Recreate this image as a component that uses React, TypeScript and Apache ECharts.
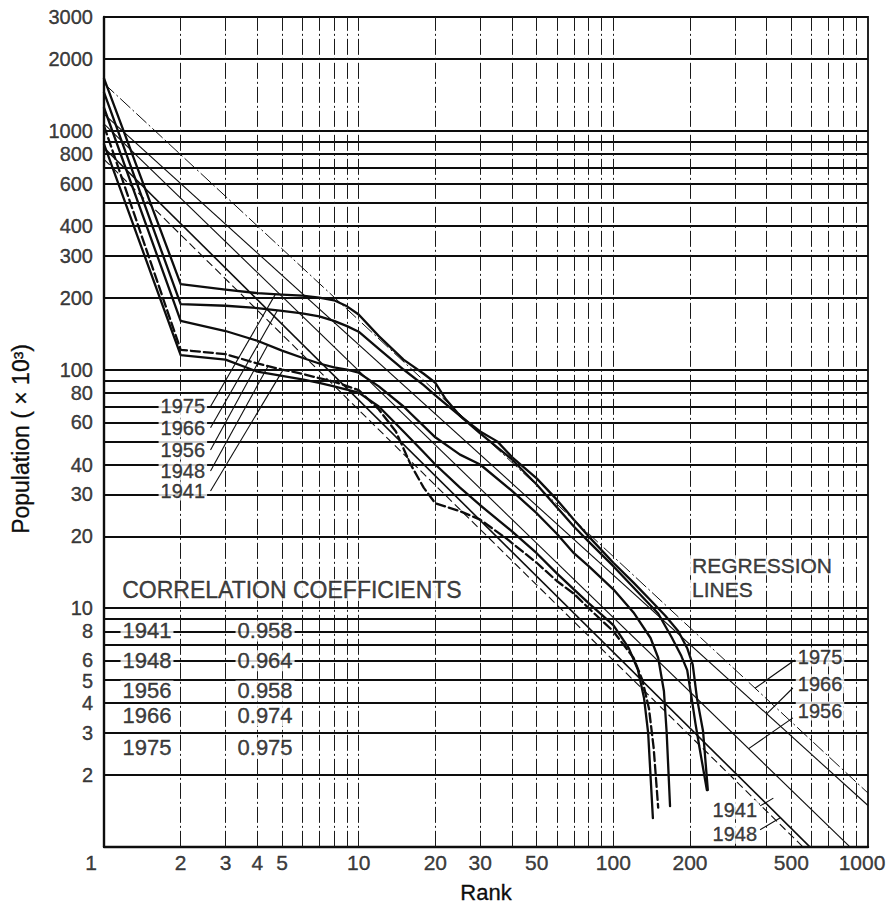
import { useEffect, useRef } from "react";
import * as echarts from "echarts";

// Census years and correlation coefficients of each rank-size regression
const years = ["1941", "1948", "1956", "1966", "1975"];
const correlation = ["0.958", "0.964", "0.958", "0.974", "0.975"];

// Rank-size curves: rank of the settlement and its population (thousands)
const rank1941 = [1, 2, 3, 4, 5, 6, 7, 8, 10, 12, 15, 18, 20, 25, 30, 40, 50, 60, 70, 80, 100, 115, 125, 132, 137, 143];
const pop1941 = [880, 115, 110, 98, 94, 91, 88, 85, 80, 70, 55, 45, 40, 32, 27, 21, 17, 14, 12, 10.5, 8.5, 6.8, 5.5, 4.2, 3, 1.32];

const rank1948 = [1, 2, 3, 4, 5, 6, 7, 8, 10, 12, 14, 16, 18, 20, 25, 30, 38, 50, 60, 70, 80, 100, 120, 130, 138, 144, 150];
const pop1948 = [1050, 121, 116, 106, 100, 96, 92, 89, 82, 68, 55, 40, 32, 27.5, 25.5, 23.5, 19.6, 15.5, 13, 11.5, 10, 8, 6.2, 5, 3.8, 2.6, 1.46];

const rank1956 = [1, 2, 3, 4, 5, 6, 7, 8, 9, 10, 12, 15, 20, 25, 30, 40, 50, 60, 70, 80, 100, 120, 140, 150, 158, 162, 167];
const pop1956 = [1250, 160, 145, 132, 120, 112, 106, 102, 100, 97, 85, 70, 52, 44, 40, 31, 25, 20.5, 17, 15, 12, 9.6, 7.5, 6.2, 4.5, 3, 1.48];

const rank1966 = [1, 2, 3, 4, 5, 6, 7, 8, 9, 10, 12, 15, 18, 20, 25, 30, 40, 50, 60, 70, 80, 100, 120, 150, 170, 185, 195, 203, 210, 218, 233];
const pop1966 = [1450, 188, 185, 181, 176, 172, 167, 160, 152, 144, 122, 100, 86, 78, 64, 54, 42, 33, 26.5, 22, 19, 15, 12.2, 9.5, 7.5, 6.3, 5.5, 4.2, 3.3, 2.6, 1.73];

const rank1975 = [1, 2, 3, 4, 5, 6, 7, 8, 9, 10, 12, 15, 18, 20, 22, 25, 30, 35, 40, 50, 60, 70, 80, 100, 120, 140, 160, 180, 195, 205, 213, 225, 235];
const pop1975 = [1660, 228, 216, 209, 206, 204, 200, 195, 184, 170, 138, 110, 96, 88, 75, 64, 55, 50, 43, 35, 28.5, 23.5, 20, 15.5, 12.8, 10.8, 9.3, 8, 6.8, 5.8, 4.2, 3.06, 1.73];

// Regression lines: end points (rank, population) for each year
const regStartRank = [1, 1, 1, 1, 1];
const regStartPop = [850, 760, 1070, 1175, 1580];
const regEndRank = [591, 555, 849, 1000, 1000];
const regEndPop = [1, 1, 1, 1.49, 1.68];

// Log grid and tick labels
const xGridValues = [2, 3, 4, 5, 6, 7, 8, 9, 10, 20, 30, 40, 50, 60, 70, 80, 90, 100, 200, 300, 400, 500, 600, 700, 800, 900];
const yGridValues = [2, 3, 4, 5, 6, 7, 8, 9, 10, 20, 30, 40, 50, 60, 70, 80, 90, 100, 200, 300, 400, 500, 600, 700, 800, 900, 1000, 2000];
const xTickLabels = [1, 2, 3, 4, 5, 10, 20, 30, 50, 100, 200, 500, 1000];
const yTickLabels = [2, 3, 4, 5, 6, 8, 10, 20, 30, 40, 60, 80, 100, 200, 300, 400, 600, 800, 1000, 2000, 3000];

const FONT = "'Liberation Sans', Arial, Helvetica, sans-serif";
const INK = "#0d0d0d";

const curveRanks = [rank1941, rank1948, rank1956, rank1966, rank1975];
const curvePops = [pop1941, pop1948, pop1956, pop1966, pop1975];
const curveDash: (string | number[])[] = ["solid", [9, 4], "solid", "solid", "solid"];
const regDash: (string | number[])[] = ["solid", [8, 4], "solid", "solid", [14, 3, 2, 3]];
const regWidth = [1.6, 1.1, 1.1, 1.1, 1];

type Anno = { at: [number, number]; text: string; pos?: string; bg?: boolean; size?: number; nudge?: number };

function buildOption() {
  const series: any[] = [];

  // grid lines drawn through the log axes
  series.push({
    type: "line",
    data: [],
    silent: true,
    z: 1,
    markLine: {
      silent: true,
      symbol: ["none", "none"],
      animation: false,
      label: { show: false },
      data: [
        ...yGridValues.map((v) => ({ yAxis: v, lineStyle: { color: INK, width: 1.8, type: "solid" } })),
        ...xGridValues.map((v) => ({ xAxis: v, lineStyle: { color: "#1a1a1a", width: 1, type: [16, 3, 2, 3] } })),
      ],
    },
  });

  // regression lines
  years.forEach((y, i) => {
    series.push({
      name: "reg" + y,
      type: "line",
      data: [
        [regStartRank[i], regStartPop[i]],
        [regEndRank[i], regEndPop[i]],
      ],
      showSymbol: false,
      silent: true,
      z: 3,
      lineStyle: { color: INK, width: regWidth[i], type: regDash[i] },
    });
  });

  // rank-size curves
  years.forEach((y, i) => {
    series.push({
      name: y,
      type: "line",
      data: curveRanks[i].map((r, k) => [r, curvePops[i][k]]),
      showSymbol: false,
      silent: true,
      z: 4,
      lineStyle: { color: INK, width: 2.3, type: curveDash[i], join: "round", cap: "round" },
    });
  });

  // pointer lines from labels to curves and regression lines
  const curveLabelRank = 2.04;
  const curveLabelPop = [31, 37.6, 46, 57, 70];
  const curvePointerEnd: [number, number][] = [
    [5, 98],
    [4.4, 103],
    [4.4, 127],
    [4.8, 177],
    [4.7, 206],
  ];
  const regLabelPop = [1.43, 1.13, 3.71, 4.82, 6.25];
  const regPointerStart: [number, number][] = [
    [377, 1.485],
    [377, 1.18],
    [507, 3.47],
    [507, 4.63],
    [516, 6.07],
  ];
  const regPointerEnd: [number, number][] = [
    [425, 1.6],
    [451, 1.32],
    [340, 2.58],
    [400, 3.61],
    [360, 4.62],
  ];
  const pointers: [number, number][][] = [];
  years.forEach((_, i) => {
    pointers.push([[2.62, curveLabelPop[i]], curvePointerEnd[i]]);
    pointers.push([regPointerStart[i], regPointerEnd[i]]);
  });
  pointers.forEach((p) => {
    series.push({
      type: "line",
      data: p,
      showSymbol: false,
      silent: true,
      z: 5,
      lineStyle: { color: INK, width: 1.1 },
    });
  });

  // text annotations placed in data coordinates
  const annos: Anno[] = [];
  yTickLabels.forEach((v) =>
    annos.push({ at: [1, v], text: String(v), pos: "left", size: 20, nudge: v === 6 ? -1.5 : v === 5 ? 1 : 0 })
  );
  xTickLabels.forEach((v) => annos.push({ at: [v, 1], text: String(v), pos: "bottom" }));
  years.forEach((y, i) => {
    annos.push({ at: [curveLabelRank, curveLabelPop[i]], text: y, bg: true, size: 20 });
  });
  annos.push({ at: [648, regLabelPop[4]], text: years[4], bg: true, size: 20 });
  annos.push({ at: [648, regLabelPop[3]], text: years[3], bg: true, size: 20 });
  annos.push({ at: [648, regLabelPop[2]], text: years[2], bg: true, size: 20 });
  annos.push({ at: [300, regLabelPop[0]], text: years[0], bg: true, size: 20 });
  annos.push({ at: [300, regLabelPop[1]], text: years[1], bg: true, size: 20 });
  annos.push({ at: [5.47, 11.93], text: "CORRELATION COEFFICIENTS", bg: true, size: 23 });
  annos.push({ at: [200, 14.9], text: "REGRESSION", pos: "right", bg: true, size: 21, nudge: -1.5 });
  annos.push({ at: [200, 12.05], text: "LINES", pos: "right", bg: true, size: 21, nudge: 1 });
  const rowPop = [8.03, 6.02, 4.5, 3.54, 2.6];
  years.forEach((y, i) => {
    annos.push({ at: [1.475, rowPop[i]], text: y, bg: true, size: 22 });
    annos.push({ at: [4.29, rowPop[i]], text: correlation[i], bg: true, size: 22 });
  });

  series.push({
    type: "scatter",
    silent: true,
    clip: false,
    z: 10,
    symbolSize: 0,
    data: annos.map((a) => {
      let offset: number[] = [0, a.nudge ?? 0];
      if (a.pos === "bottom" && a.at[0] === 1) offset = [-13, 0];
      if (a.pos === "bottom" && a.at[0] === 1000) offset = [-6, 0];
      const size = a.size ?? 21;
      return {
        value: a.at,
        label: {
          show: true,
          formatter: a.text,
          position: a.pos === "left" ? "left" : a.pos === "bottom" ? "bottom" : a.pos === "right" ? "right" : "inside",
          distance: a.pos === "left" ? 11 : a.pos === "bottom" ? 7 : 0,
          offset,
          color: INK,
          fontFamily: FONT,
          fontSize: size,
          lineHeight: Math.round(size * 0.85),
          textBorderColor: INK,
          textBorderWidth: 0.4,
          backgroundColor: a.bg ? "#fff" : "transparent",
          padding: a.bg ? [1, 2] : 0,
        },
      };
    }),
  });

  return {
    animation: false,
    backgroundColor: "#fff",
    grid: {
      left: 104,
      right: 22,
      top: 17,
      bottom: 60,
      show: true,
      borderColor: INK,
      borderWidth: 1.8,
      backgroundColor: "transparent",
    },
    xAxis: {
      type: "log",
      logBase: 10,
      min: 1,
      max: 1000,
      name: "Rank",
      nameLocation: "middle",
      nameGap: 35,
      nameTextStyle: { color: INK, fontFamily: FONT, fontSize: 22, textBorderColor: INK, textBorderWidth: 0.3 },
      axisLine: { show: true, onZero: false, lineStyle: { color: INK, width: 2.4 } },
      axisTick: { show: false },
      axisLabel: { show: false },
      splitLine: { show: false },
    },
    yAxis: {
      type: "log",
      logBase: 10,
      min: 1,
      max: 3000,
      name: "Population ( \u00d7 10\u00b3)",
      nameLocation: "middle",
      nameRotate: 90,
      nameGap: 72,
      nameTextStyle: {
        color: INK,
        fontFamily: FONT,
        fontSize: 23,
        padding: [0, 14, 0, 0],
        textBorderColor: INK,
        textBorderWidth: 0.3,
      },
      axisLine: { show: true, onZero: false, lineStyle: { color: INK, width: 2.4 } },
      axisTick: { show: false },
      axisLabel: { show: false },
      splitLine: { show: false },
    },
    series,
  };
}

export default function App() {
  const ref = useRef<HTMLDivElement>(null);
  useEffect(() => {
    if (!ref.current) return;
    const chart = echarts.init(ref.current, null, { renderer: "svg" });
    chart.setOption(buildOption() as any);
    return () => chart.dispose();
  }, []);
  return (
    <div
      ref={ref}
      style={{ position: "fixed", left: 0, top: 0, width: 890, height: 909, background: "#fff" }}
    />
  );
}
